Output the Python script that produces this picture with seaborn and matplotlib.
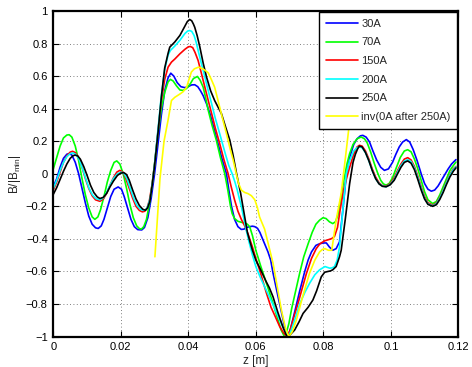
import numpy as np
import pandas as pd
import matplotlib
matplotlib.use("Agg")
import matplotlib.pyplot as plt
import seaborn as sns

labels = ["30A", "70A", "150A", "200A", "250A", "inv(0A after 250A)"]
colors = ["#0000ff", "#00ff00", "#ff0000", "#00ffff", "#000000", "#ffff00"]

# 30A
z_30 = [0, 0.001, 0.002, 0.003, 0.004, 0.0047, 0.0055, 0.0065, 0.0075, 0.0085, 0.0095, 0.0105, 0.0115, 0.0125,
        0.0133, 0.0142, 0.015, 0.016, 0.017, 0.018, 0.0192, 0.0202, 0.021, 0.022, 0.023, 0.024, 0.025, 0.0262,
        0.027, 0.028, 0.029, 0.030, 0.031, 0.032, 0.033, 0.034, 0.0348, 0.0357, 0.0367, 0.0378, 0.039, 0.040,
        0.041, 0.0419, 0.0428, 0.0436, 0.0444, 0.0454, 0.0464, 0.0476, 0.0488, 0.050, 0.0513, 0.052, 0.0528,
        0.0537, 0.0547, 0.0557, 0.0565, 0.0572, 0.0582, 0.059, 0.0597, 0.0605, 0.0612, 0.062, 0.0628, 0.0636,
        0.0644, 0.0651, 0.0666, 0.0678, 0.0688, 0.0695, 0.0703, 0.0715, 0.073, 0.0745, 0.0755, 0.0765, 0.0778,
        0.0789, 0.080, 0.0809, 0.0818, 0.0828, 0.0838, 0.0848, 0.0858, 0.0868, 0.0878, 0.089, 0.090, 0.091,
        0.0917, 0.0927, 0.0937, 0.0947, 0.0958, 0.097, 0.0981, 0.0993, 0.1005, 0.1015, 0.1025, 0.1035, 0.1046,
        0.1056, 0.1066, 0.1078, 0.109, 0.110, 0.111, 0.112, 0.113, 0.114, 0.115, 0.116, 0.117, 0.118, 0.1193]
b_30 = [-0.08, -0.03, 0.04, 0.095, 0.12, 0.124, 0.115, 0.07, 0.0, -0.09, -0.18, -0.26, -0.31, -0.332,
        -0.336, -0.32, -0.28, -0.21, -0.14, -0.095, -0.081, -0.095, -0.14, -0.21, -0.28, -0.325, -0.343, -0.345,
        -0.33, -0.27, -0.15, 0.0, 0.18, 0.36, 0.51, 0.59, 0.618, 0.60, 0.56, 0.535, 0.529, 0.536,
        0.546, 0.547, 0.535, 0.51, 0.48, 0.43, 0.37, 0.28, 0.185, 0.09, 0.0, -0.1, -0.2,
        -0.28, -0.325, -0.342, -0.34, -0.33, -0.325, -0.322, -0.325, -0.335, -0.36, -0.40, -0.44, -0.48,
        -0.53, -0.61, -0.756, -0.87, -0.965, -1.0, -0.95, -0.85, -0.72, -0.6, -0.53, -0.48, -0.44,
        -0.43, -0.425, -0.425, -0.45, -0.47, -0.46, -0.418, -0.22, -0.01, 0.1, 0.18, 0.215, 0.233,
        0.236, 0.225, 0.195, 0.14, 0.085, 0.04, 0.021, 0.03, 0.07, 0.12, 0.165, 0.195, 0.21,
        0.195, 0.15, 0.08, 0.0, -0.06, -0.095, -0.107, -0.10, -0.075, -0.04, -0.005, 0.03, 0.06, 0.087]

# 70A
z_70 = [0, 0.001, 0.002, 0.003, 0.004, 0.0047, 0.0055, 0.0065, 0.0075, 0.0085, 0.0095, 0.0105, 0.0115, 0.0123,
        0.0132, 0.014, 0.015, 0.016, 0.017, 0.018, 0.0188, 0.0197, 0.0207, 0.0217, 0.0227, 0.0237, 0.0247,
        0.0255, 0.0261, 0.0268, 0.0276, 0.0285, 0.0293, 0.030, 0.031, 0.032, 0.033, 0.034, 0.0347, 0.0355,
        0.0365, 0.0375, 0.0385, 0.0395, 0.0405, 0.0415, 0.0427, 0.0435, 0.0444, 0.0452, 0.0459, 0.047, 0.0483,
        0.0495, 0.0508, 0.0517, 0.0525, 0.053, 0.0537, 0.0547, 0.0557, 0.0567, 0.0575, 0.0582, 0.059, 0.060,
        0.0615, 0.0631, 0.065, 0.0666, 0.0675, 0.0683, 0.069, 0.0698, 0.0706, 0.0718, 0.073, 0.0742, 0.0755,
        0.0767, 0.0778, 0.0789, 0.0799, 0.0808, 0.0818, 0.0828, 0.0836, 0.0843, 0.0852, 0.086, 0.087, 0.0878,
        0.0888, 0.090, 0.0912, 0.0922, 0.093, 0.094, 0.095, 0.096, 0.097, 0.0978, 0.0986, 0.0995, 0.1005,
        0.1015, 0.1028, 0.104, 0.105, 0.106, 0.107, 0.108, 0.109, 0.110, 0.111, 0.1124, 0.1135, 0.1145,
        0.1155, 0.1165, 0.1175, 0.1185, 0.1193]
b_70 = [0.03, 0.10, 0.17, 0.22, 0.238, 0.24, 0.225, 0.17, 0.08, -0.03, -0.13, -0.21, -0.265, -0.28,
        -0.265, -0.22, -0.14, -0.05, 0.02, 0.07, 0.079, 0.06, 0.0, -0.09, -0.19, -0.27, -0.32,
        -0.337, -0.34, -0.325, -0.28, -0.18, -0.06, 0.06, 0.25, 0.40, 0.50, 0.565, 0.58, 0.57,
        0.54, 0.515, 0.512, 0.525, 0.55, 0.585, 0.598, 0.575, 0.532, 0.46, 0.39, 0.3, 0.206,
        0.1, 0.0, -0.1, -0.2, -0.245, -0.275, -0.292, -0.298, -0.302, -0.31, -0.326, -0.38, -0.47,
        -0.57, -0.67, -0.79, -0.9, -0.96, -0.993, -0.98, -0.92, -0.83, -0.72, -0.61, -0.51, -0.43,
        -0.36, -0.31, -0.285, -0.27, -0.275, -0.295, -0.306, -0.295, -0.255, -0.15, -0.05, 0.06, 0.124,
        0.18, 0.215, 0.226, 0.215, 0.19, 0.135, 0.07, 0.01, -0.04, -0.062, -0.07, -0.06, -0.025,
        0.03, 0.10, 0.14, 0.148, 0.135, 0.09, 0.03, -0.04, -0.11, -0.16, -0.183, -0.17, -0.13,
        -0.08, -0.03, 0.02, 0.05, 0.072]

# 150A
z_150 = [0, 0.001, 0.002, 0.003, 0.004, 0.005, 0.0057, 0.0065, 0.0075, 0.0085, 0.0095, 0.0105, 0.0115, 0.0125,
         0.0138, 0.0148, 0.0158, 0.0168, 0.0178, 0.0188, 0.0197, 0.0206, 0.0215, 0.0225, 0.0235, 0.0245, 0.0255,
         0.0264, 0.0271, 0.0278, 0.0285, 0.0293, 0.030, 0.031, 0.032, 0.033, 0.034, 0.035, 0.036, 0.0375, 0.039,
         0.040, 0.0406, 0.0413, 0.042, 0.0429, 0.0439, 0.0449, 0.0459, 0.0469, 0.048, 0.0493, 0.0505, 0.0518,
         0.0527, 0.0537, 0.0547, 0.0557, 0.0567, 0.0577, 0.059, 0.060, 0.0611, 0.0621, 0.0631, 0.0645, 0.0656,
         0.0671, 0.0683, 0.0693, 0.0702, 0.071, 0.0725, 0.0738, 0.075, 0.0765, 0.0779, 0.079, 0.0804, 0.0815,
         0.0825, 0.0833, 0.0842, 0.085, 0.086, 0.087, 0.0878, 0.089, 0.090, 0.0907, 0.0915, 0.0925, 0.0935,
         0.0945, 0.0955, 0.0965, 0.0975, 0.0986, 0.0998, 0.101, 0.102, 0.103, 0.104, 0.105, 0.106, 0.107,
         0.108, 0.109, 0.110, 0.111, 0.1124, 0.1135, 0.1145, 0.1155, 0.1165, 0.1175, 0.1185, 0.1193]
b_150 = [-0.10, -0.05, 0.01, 0.07, 0.11, 0.133, 0.138, 0.13, 0.10, 0.04, -0.03, -0.09, -0.135, -0.16,
         -0.169, -0.155, -0.12, -0.07, -0.025, 0.01, 0.021, 0.01, -0.03, -0.09, -0.15, -0.2, -0.225,
         -0.234, -0.23, -0.21, -0.16, -0.06, 0.06, 0.26, 0.45, 0.58, 0.655, 0.686, 0.705, 0.737, 0.765,
         0.78, 0.782, 0.775, 0.745, 0.696, 0.615, 0.532, 0.45, 0.37, 0.28, 0.185, 0.09, 0.0,
         -0.08, -0.16, -0.23, -0.28, -0.32, -0.37, -0.45, -0.52, -0.59, -0.66, -0.73, -0.82, -0.87,
         -0.94, -0.98, -1.0, -0.96, -0.9, -0.796, -0.7, -0.612, -0.52, -0.46, -0.43, -0.412, -0.405,
         -0.398, -0.385, -0.33, -0.22, -0.1, -0.02, 0.04, 0.12, 0.165, 0.175, 0.17, 0.14, 0.09,
         0.03, -0.02, -0.055, -0.073, -0.077, -0.06, -0.025, 0.02, 0.06, 0.09, 0.099, 0.085, 0.045,
         -0.015, -0.08, -0.14, -0.178, -0.193, -0.18, -0.145, -0.1, -0.05, -0.005, 0.03, 0.045]

# 200A
z_200 = [0, 0.001, 0.002, 0.003, 0.004, 0.005, 0.0058, 0.0066, 0.0076, 0.0086, 0.0096, 0.0106, 0.0116, 0.0126,
         0.0138, 0.0148, 0.0158, 0.0168, 0.0178, 0.019, 0.0202, 0.021, 0.0218, 0.0228, 0.0238, 0.0248, 0.0258,
         0.0267, 0.0274, 0.028, 0.0287, 0.0294, 0.030, 0.031, 0.032, 0.033, 0.034, 0.0347, 0.036, 0.0375, 0.039,
         0.0398, 0.0404, 0.041, 0.0417, 0.0423, 0.0429, 0.0439, 0.0449, 0.0459, 0.0469, 0.048, 0.0493, 0.051,
         0.052, 0.053, 0.0538, 0.0545, 0.0552, 0.0557, 0.0565, 0.0572, 0.058, 0.059, 0.060, 0.0615, 0.0631,
         0.065, 0.0671, 0.0682, 0.069, 0.0697, 0.0705, 0.0715, 0.073, 0.0745, 0.0759, 0.0775, 0.0789, 0.0805,
         0.0812, 0.0819, 0.0826, 0.0833, 0.0841, 0.0848, 0.0858, 0.0868, 0.0878, 0.089, 0.090, 0.0907, 0.0915,
         0.0925, 0.0935, 0.0945, 0.0955, 0.0965, 0.0975, 0.0986, 0.0998, 0.101, 0.102, 0.103, 0.104, 0.105,
         0.106, 0.107, 0.108, 0.109, 0.110, 0.111, 0.1124, 0.1135, 0.1145, 0.1155, 0.1165, 0.1175, 0.1185, 0.1193]
b_200 = [-0.09, -0.04, 0.02, 0.07, 0.105, 0.124, 0.128, 0.12, 0.09, 0.035, -0.03, -0.09, -0.13, -0.152,
         -0.16, -0.148, -0.115, -0.07, -0.03, 0.0, 0.01, 0.0, -0.03, -0.09, -0.15, -0.195, -0.218,
         -0.225, -0.22, -0.2, -0.15, -0.05, 0.06, 0.27, 0.48, 0.64, 0.73, 0.758, 0.785, 0.82, 0.862,
         0.877, 0.88, 0.875, 0.85, 0.81, 0.758, 0.675, 0.594, 0.51, 0.43, 0.34, 0.246, 0.12,
         0.05, 0.0, -0.05, -0.1, -0.16, -0.2, -0.28, -0.35, -0.42, -0.5, -0.57, -0.645, -0.715,
         -0.8, -0.9, -0.95, -0.98, -1.0, -0.96, -0.9, -0.8, -0.73, -0.674, -0.62, -0.59, -0.57,
         -0.575, -0.58, -0.578, -0.57, -0.53, -0.45, -0.22, 0.0, 0.08, 0.14, 0.16, 0.165, 0.16,
         0.13, 0.08, 0.02, -0.03, -0.06, -0.075, -0.08, -0.065, -0.035, 0.01, 0.05, 0.078, 0.087,
         0.075, 0.035, -0.025, -0.09, -0.15, -0.185, -0.197, -0.185, -0.15, -0.105, -0.055, -0.01, 0.025, 0.042]

# 250A
z_250 = [0, 0.001, 0.002, 0.003, 0.004, 0.005, 0.0058, 0.0064, 0.0072, 0.008, 0.009, 0.010, 0.011, 0.012,
         0.013, 0.0138, 0.0148, 0.0158, 0.0168, 0.0178, 0.019, 0.020, 0.0209, 0.0217, 0.0225, 0.0235, 0.0245,
         0.0255, 0.0265, 0.0273, 0.0279, 0.0286, 0.0293, 0.030, 0.031, 0.032, 0.033, 0.034, 0.0345, 0.036,
         0.0375, 0.0388, 0.0397, 0.0404, 0.041, 0.0415, 0.0419, 0.0426, 0.0434, 0.0444, 0.0454, 0.0466, 0.0478,
         0.0488, 0.0498, 0.051, 0.0523, 0.0533, 0.0543, 0.0549, 0.0555, 0.0565, 0.0575, 0.0583, 0.059, 0.060,
         0.0612, 0.0621, 0.063, 0.064, 0.0651, 0.0665, 0.068, 0.0688, 0.0693, 0.0701, 0.0715, 0.0728, 0.074,
         0.0755, 0.0769, 0.078, 0.0794, 0.0804, 0.0814, 0.0821, 0.0828, 0.0838, 0.0848, 0.0853, 0.0865, 0.0878,
         0.0888, 0.0895, 0.0902, 0.0907, 0.0915, 0.0925, 0.0935, 0.0945, 0.0955, 0.0965, 0.0975, 0.0986, 0.0998,
         0.101, 0.102, 0.103, 0.104, 0.105, 0.106, 0.107, 0.108, 0.109, 0.110, 0.111, 0.1124, 0.1135, 0.1145,
         0.1155, 0.1165, 0.1175, 0.1185, 0.1193]
b_250 = [-0.126, -0.085, -0.035, 0.015, 0.06, 0.095, 0.11, 0.115, 0.11, 0.09, 0.045, -0.01, -0.07, -0.115,
         -0.142, -0.152, -0.145, -0.12, -0.08, -0.045, -0.01, 0.004, 0.007, -0.005, -0.04, -0.1, -0.155,
         -0.195, -0.218, -0.224, -0.21, -0.17, -0.07, 0.05, 0.25, 0.47, 0.65, 0.74, 0.778, 0.81,
         0.85, 0.9, 0.935, 0.948, 0.94, 0.92, 0.90, 0.85, 0.78, 0.68, 0.594, 0.51, 0.45,
         0.41, 0.37, 0.29, 0.206, 0.11, 0.0, -0.06, -0.12, -0.24, -0.36, -0.42, -0.47, -0.53,
         -0.58, -0.62, -0.66, -0.70, -0.756, -0.85, -0.94, -0.98, -1.0, -0.99, -0.96, -0.91, -0.858,
         -0.82, -0.776, -0.72, -0.633, -0.605, -0.6, -0.597, -0.59, -0.57, -0.51, -0.47, -0.28, -0.06,
         0.07, 0.12, 0.155, 0.17, 0.165, 0.13, 0.08, 0.02, -0.03, -0.062, -0.077, -0.08, -0.068,
         -0.04, 0.0, 0.04, 0.07, 0.079, 0.065, 0.025, -0.035, -0.1, -0.155, -0.188, -0.2, -0.19, -0.158,
         -0.115, -0.065, -0.02, 0.015, 0.036]

# inv(0A after 250A)
z_inv = [0.0301, 0.0316, 0.0328, 0.034, 0.035, 0.036, 0.0375, 0.0385, 0.0395, 0.0402, 0.0409, 0.0418, 0.043,
         0.044, 0.045, 0.0459, 0.0468, 0.0478, 0.0488, 0.050, 0.0513, 0.0523, 0.0533, 0.0542, 0.0549, 0.0557,
         0.0567, 0.0577, 0.0587, 0.0597, 0.0605, 0.0611, 0.0626, 0.0638, 0.0651, 0.0664, 0.0676, 0.0688, 0.0698,
         0.0708, 0.072, 0.0738, 0.0759, 0.0775, 0.0789, 0.0797, 0.0805, 0.0815, 0.0825, 0.0838, 0.0853, 0.0865,
         0.0876, 0.0895]
b_inv = [-0.51, -0.03, 0.2, 0.33, 0.45, 0.47, 0.49, 0.505, 0.532, 0.58, 0.625, 0.645, 0.655,
         0.648, 0.635, 0.62, 0.58, 0.532, 0.45, 0.35, 0.246, 0.16, 0.083, 0.0, -0.06, -0.1,
         -0.115, -0.122, -0.135, -0.16, -0.21, -0.265, -0.34, -0.44, -0.55, -0.7, -0.84, -0.95, -1.0,
         -0.97, -0.9, -0.76, -0.612, -0.53, -0.48, -0.465, -0.46, -0.47, -0.47, -0.285, -0.12, 0.09,
         0.287, 0.75]

x_ticks = [0, 0.02, 0.04, 0.06, 0.08, 0.1, 0.12]
x_tick_labels = ["0", "0.02", "0.04", "0.06", "0.08", "0.1", "0.12"]
y_ticks = [-1, -0.8, -0.6, -0.4, -0.2, 0, 0.2, 0.4, 0.6, 0.8, 1]
y_tick_labels = ["\u22121", "\u22120.8", "\u22120.6", "\u22120.4", "\u22120.2", "0",
                 "0.2", "0.4", "0.6", "0.8", "1"]

series = [(z_30, b_30), (z_70, b_70), (z_150, b_150), (z_200, b_200), (z_250, b_250), (z_inv, b_inv)]
frames = []
for lab, (zz, bb) in zip(labels, series):
    assert len(zz) == len(bb), lab
    frames.append(pd.DataFrame({"z": zz, "B": bb, "series": lab}))
df = pd.concat(frames, ignore_index=True)

sns.set_style("ticks")
plt.rcParams["font.family"] = ["Liberation Sans", "DejaVu Sans"]
plt.rcParams["mathtext.fontset"] = "custom"
plt.rcParams["mathtext.rm"] = "Liberation Sans"

fig = plt.figure(figsize=(4.72, 3.67), dpi=100)
ax = fig.add_axes([0.113, 0.083, 0.858, 0.887])

sns.lineplot(data=df, x="z", y="B", hue="series", hue_order=labels,
             palette=dict(zip(labels, colors)), sort=False, estimator=None,
             units="series", linewidth=1.2, ax=ax, legend=True)

ax.set_xlim(0, 0.12)
ax.set_ylim(-1, 1)
ax.set_xticks(x_ticks)
ax.set_xticklabels(x_tick_labels)
ax.set_yticks(y_ticks)
ax.set_yticklabels(y_tick_labels)
ax.tick_params(direction="in", top=True, right=True, length=4, width=0.8,
               labelsize=8, colors="black", pad=4)
ax.grid(True, linestyle=(0, (1, 3)), color="#555555", linewidth=0.6)
for sp in ax.spines.values():
    sp.set_visible(True)
    sp.set_color("black")
    sp.set_linewidth(1.6)

ax.set_xlabel("z [m]", fontsize=8.5, labelpad=2)
ax.set_ylabel(r"B/|B$_{\mathregular{min}}$|", fontsize=8.5, labelpad=2)

handles, labs = ax.get_legend_handles_labels()
leg = ax.legend(handles, labs, loc="upper right", fontsize=8, frameon=True, fancybox=False,
                framealpha=1, edgecolor="black", borderaxespad=0.1, handlelength=2.9,
                labelspacing=0.78, handletextpad=0.3, borderpad=0.6)
leg.get_frame().set_linewidth(1.0)
for h in leg.get_lines():
    h.set_linewidth(1.2)

fig.savefig("out.png", dpi=100)
